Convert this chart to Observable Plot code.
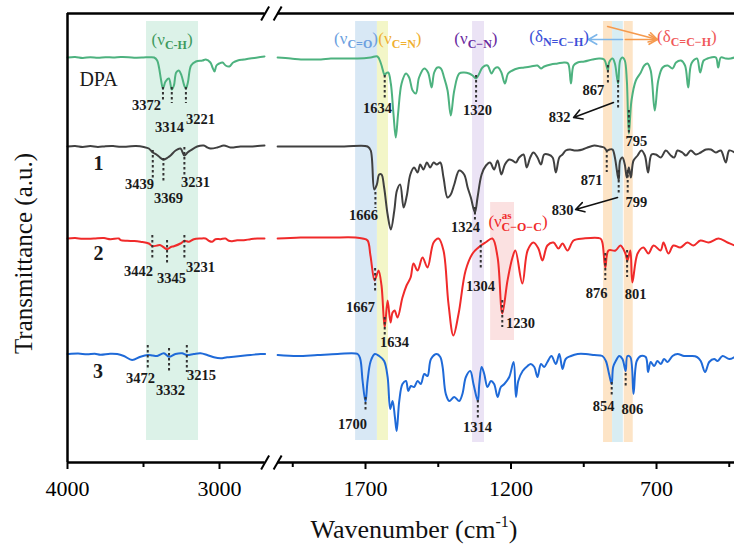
<!DOCTYPE html>
<html><head><meta charset="utf-8">
<script src="https://cdn.jsdelivr.net/npm/d3@7"></script>
<script src="https://cdn.jsdelivr.net/npm/@observablehq/plot@0.6"></script>
<style>body{margin:0;background:#fff}svg{display:block}</style>
</head><body><div id="chart"></div>
<script>
// ---------- DATA (wavenumber cm-1, relative transmittance a.u.) ----------
const seriesNames = ["DPA", "1", "2", "3"];
const seriesColors = ["#4db27f", "#404040", "#f02a2a", "#1f6ad8"];
const seriesOffsets = [405, 316, 224, 108.5];

const specDPA = [[4000,0],[3950,0.5],[3900,-0.5],[3850,0.3],[3800,-0.3],[3750,0.3],[3700,0],[3650,0.4],[3600,0.3],[3550,-0.2],[3500,0],[3460,0.3],[3430,0],[3410,-3],[3398,-10],[3385,-22],[3372,-31],[3355,-24],[3333,-21],[3314,-32],[3300,-28],[3285,-15],[3268,-13],[3250,-18],[3232,-28],[3221,-31],[3208,-25],[3187,-8],[3155,-4],[3112,-3],[3090,-2],[3060,-5],[3046,-10],[3033,-14],[3020,-8],[3002,-6],[2980,-5],[2960,-8],[2935,-9],[2910,-5],[2880,-3],[2840,-2],[2800,-1],[2750,0],[2704,1],
[2002,0],[1957,-1],[1922,-2],[1888,-2],[1853,-2],[1819,-1],[1773,-1],[1727,-1],[1682,0],[1659,1],[1647,-6],[1634,-18],[1630,-16],[1622,-15],[1613,-26],[1604,-56],[1596,-80],[1588,-56],[1576,-26],[1561,-16],[1550,-20],[1538,-33],[1527,-36],[1516,-20],[1498,-11],[1485,-15],[1473,-30],[1464,-15],[1453,-10],[1441,-11],[1430,-20],[1418,-33],[1407,-58],[1395,-33],[1378,-16],[1361,-15],[1344,-16],[1332,-18],[1320,-21],[1309,-16],[1298,-10],[1281,-8],[1267,-16],[1256,-11],[1244,-10],[1233,-15],[1221,-26],[1210,-16],[1195,-13],[1178,-11],[1155,-10],[1132,-9],[1109,-8],[1097,-11],[1086,-9],[1063,-7],[1040,-6],[1017,-5],[1004,-6],[994,-26],[985,-8],[971,-5],[948,-4],[920,-2],[897,-1],[880,-2],[867,-13],[863,-5],[851,-1],[843,-6],[832,-26],[825,-3],[817,0],[809,-3],[802,-23],[795,-76],[786,-43],[771,-23],[754,-15],[742,-8],[731,-6],[720,-13],[706,-53],[694,-23],[679,-10],[662,-8],[645,-11],[633,-5],[616,-3],[602,-8],[591,-30],[580,-6],[561,-1],[550,-15],[538,-3],[525,-1],[513,0],[496,0],[488,-10],[479,0],[462,-1],[445,-1],[432,0]];

const spec1 = [[4000,0],[3950,0.5],[3900,-0.5],[3850,0.4],[3800,-0.5],[3750,0.3],[3700,0.5],[3650,-0.3],[3600,0],[3550,0.4],[3498,-0.5],[3465,-2],[3439,-6],[3415,-8],[3399,-10],[3369,-13],[3340,-11],[3322,-9],[3289,-4],[3257,-2],[3231,-9],[3210,-6],[3191,-4],[3147,0],[3103,1],[3080,-1],[3059,-2],[3015,-1],[2971,1],[2928,-1],[2862,0],[2796,0],[2750,0.5],[2704,1],
[2002,0],[1888,0],[1773,0],[1693,0],[1682,-4],[1670,-43],[1661,-38],[1653,-28],[1645,-28],[1636,-41],[1624,-68],[1613,-83],[1601,-64],[1592,-44],[1581,-38],[1569,-61],[1558,-49],[1546,-28],[1533,-21],[1521,-26],[1512,-18],[1501,-23],[1489,-16],[1478,-21],[1466,-16],[1455,-18],[1443,-16],[1432,-31],[1418,-51],[1407,-48],[1395,-38],[1378,-24],[1361,-28],[1349,-41],[1338,-51],[1324,-66],[1315,-51],[1301,-28],[1286,-19],[1272,-16],[1258,-23],[1246,-14],[1233,-28],[1221,-18],[1206,-13],[1195,-14],[1183,-16],[1172,-11],[1157,-8],[1146,-21],[1134,-11],[1123,-6],[1109,-11],[1097,-18],[1086,-8],[1072,-8],[1057,-11],[1046,-26],[1034,-11],[1023,-8],[1012,-4],[997,-3],[983,-4],[971,-4],[954,-3],[937,-1],[914,1],[894,0],[880,-1],[871,-4],[861,-3],[851,-3],[843,-11],[830,-34],[825,-14],[817,-11],[809,-18],[802,-31],[795,-21],[788,-31],[779,-14],[765,-9],[752,-4],[740,-9],[729,-26],[717,-8],[702,-8],[685,-11],[668,-4],[651,-9],[639,-11],[628,-4],[611,-6],[599,-9],[582,-4],[565,-8],[548,-6],[530,-3],[513,-3],[496,-6],[479,-4],[462,-16],[450,-4],[432,-6]];

const spec2 = [[4000,0],[3950,0.4],[3900,-0.3],[3827,0],[3760,0.4],[3717,-0.7],[3662,0],[3651,-1.7],[3607,-2.3],[3560,-2.5],[3520,-3.3],[3465,-5],[3442,-7.7],[3410,-7],[3388,-6.7],[3345,-10.7],[3320,-8.5],[3300,-7.7],[3257,-5],[3231,-2.3],[3215,-2.8],[3202,-3.3],[3169,-0.7],[3125,0],[3092,0],[3070,-2.3],[3048,-3.3],[3026,-0.7],[2993,-0.7],[2961,0],[2939,-2.3],[2917,-2.7],[2884,-1.7],[2840,-1.7],[2796,-0.7],[2752,0],[2704,0],
[2002,0],[1923,1],[1820,1],[1734,1],[1710,0],[1693,-2],[1683,-17],[1669,-42],[1662,-37],[1655,-32],[1645,-47],[1634,-89],[1624,-62],[1614,-84],[1607,-74],[1600,-72],[1590,-79],[1573,-59],[1559,-47],[1545,-39],[1535,-25],[1521,-32],[1504,-19],[1487,-29],[1466,-4],[1449,0],[1432,-12],[1415,-65],[1398,-97],[1380,-75],[1356,-32],[1332,-15],[1312,-9],[1304,-7],[1288,-4],[1264,0],[1246,-19],[1230,-75],[1212,-42],[1195,-19],[1185,-12],[1161,-45],[1143,-12],[1123,-4],[1106,-10],[1092,-22],[1075,-7],[1054,-4],[1037,-10],[1023,-5],[1006,-12],[985,-2],[951,0],[893,0],[886,-4],[876,-29],[865,-12],[841,-12],[824,-7],[807,-15],[800,-22],[790,-12],[783,-44],[765,-15],[745,-9],[728,-15],[710,-7],[686,-12],[676,-4],[659,-15],[642,-7],[618,-9],[594,-4],[573,-7],[549,-2],[521,-4],[487,0],[456,-4],[432,-7]];

const spec3 = [[4000,0],[3991,0],[3930,0.4],[3871,-0.3],[3820,0.3],[3783,-0.7],[3720,0.3],[3673,0],[3629,-2],[3575,-6],[3520,-2.7],[3472,-1],[3440,-1.5],[3410,-2],[3366,0.7],[3332,-2.7],[3290,0],[3246,0.7],[3215,-1],[3169,0],[3125,0.7],[3081,-1],[3037,-3.3],[2993,-4.3],[2950,-3.3],[2906,-2.7],[2862,-2],[2796,-1],[2730,0],[2700,0],
[2002,-1],[1934,-2],[1865,-1],[1796,0],[1727,0],[1718,-5],[1710,-27],[1700,-48],[1693,-27],[1682,-7],[1668,0],[1653,-2],[1636,-7],[1624,-23],[1615,-55],[1607,-47],[1599,-63],[1593,-77],[1584,-47],[1573,-30],[1561,-27],[1553,-37],[1544,-32],[1533,-33],[1521,-27],[1510,-30],[1498,-20],[1487,-22],[1475,-5],[1455,0],[1443,-3],[1435,-13],[1424,-40],[1412,-47],[1395,-43],[1378,-47],[1367,-40],[1355,-23],[1340,-17],[1329,-30],[1314,-47],[1309,-30],[1301,-13],[1292,-20],[1281,-33],[1269,-27],[1258,-30],[1246,-43],[1235,-33],[1223,-30],[1206,-23],[1191,-8],[1183,-43],[1175,-27],[1160,-17],[1143,-12],[1132,-10],[1120,-13],[1109,-23],[1097,-10],[1086,-13],[1075,-8],[1061,-2],[1046,-10],[1034,0],[1023,-15],[1012,-5],[994,-2],[971,0],[943,0],[914,-1],[886,-2],[874,-7],[863,-20],[854,-30],[849,-13],[840,-7],[828,-2],[817,-5],[806,-17],[800,-2],[790,-3],[779,-40],[768,-7],[754,-2],[737,-3],[729,-18],[720,-8],[708,-12],[697,-7],[685,-10],[674,-5],[662,-8],[645,-2],[628,0],[605,-2],[582,-2],[561,-3],[548,-7],[533,-18],[519,-8],[502,-5],[490,-7],[473,-2],[450,-5],[432,-3]];

const spectra = [specDPA, spec1, spec2, spec3];

// x-axis ticks (broken axis)
const majorTicks = [4000, 3000, 1700, 1200, 700];
const minorTicks = [3500, 1950, 1450, 950, 450];

// shaded assignment bands: [from, to, yBottom, yTop, colour]
const bands = [
  [3480, 3138, 22, 441, "#dcf2e8"],
  [1734, 1659, 22, 441, "#d8e8f5"],
  [1659, 1621, 22, 441, "#f3f6c8"],
  [1332, 1291, 20, 441, "#ebe3f5"],
  [882, 851, 20, 441, "#fde4c6"],
  [851, 814, 20, 441, "#d8edf3"],
  [811, 780, 20, 441, "#fde4c6"],
  [1270, 1188, 122, 260, "#fbe1e1"]
];

// peak labels: [text, wn, y]
const peakLabels = [
  ["3372",3480,357],["3314",3329,335],["3221",3125,343],["1634",1659,354],["1320",1315,352],["867",917,372],["832",1033,345],["795",769,321],
  ["3439",3526,278],["3369",3336,264],["3231",3158,280],["1666",1707,247],["1324",1356,235],["871",923,282],["830",1023,252],["799",769,260],
  ["3442",3533,191],["3345",3316,184],["3231",3125,195],["1667",1717,155],["1634",1600,120],["1304",1305,176],["1230",1167,139],["876",906,169],["801",772,168],
  ["3472",3520,84],["3332",3322,72],["3215",3118,87],["1700",1745,38],["1314",1315,35],["854",882,56],["806",783,53]
];
// dashed peak markers: [wn, yTop, yBottom]
const peakDashes = [
  [3372,375,362],[3314,375,359],[3221,375,359],[1634,387,362],[1320,387,360],[867,397,377],[832,382,352],[795,352,329],
  [3439,312,282],[3369,304,279],[3231,315,285],[1666,270,254],[1324,255,242],[871,312,290],[830,292,267],[799,292,269],
  [3442,227,202],[3345,222,197],[3231,227,202],[1667,194,169],[1634,145,125],[1304,222,192],[1230,162,135],[876,209,182],[801,212,185],
  [3472,117,94],[3332,114,89],[3215,117,90],[1700,65,52],[1314,62,44],[854,80,67],[806,89,74]
];
// series names: [text, wn, y]
const seriesLabels = [["DPA",3796,383],["1",3796,299],["2",3796,209],["3",3800,91]];
// arrows: [wn1, y1, wn2, y2, colour]
const arrows = [
  [848,360,985,345,"#111"],
  [834,265,978,253,"#111"],
  [817,423,934,423,"#7db6ea"],
  [868,436,697,423,"#f59a4e"],
  [807,423,697,423,"#f59a4e"]
];
// assignment labels: [symbol, sup, sub, wn, y, colour, anchor]
const groups = [
  ["ν","","C-H",3309,417,"#3f9a5e","middle"],
  ["ν","","C=O",1731,418,"#6c9fe0","middle"],
  ["ν","","C=N",1580,418,"#f0b030","middle"],
  ["ν","","C−N",1319,418,"#6a2aa0","middle"],
  ["δ","","N=C−H",1033,420,"#3c50d8","middle"],
  ["δ","","C=C−H",594,420,"#f05a5a","middle"],
  ["ν","as","C−O−C",1276,235,"#f02a2a","start"]
];

// ---------- broken-axis position ----------
const u = wn => wn > 2350 ? (4000 - wn) * 0.152 : 298 + (1700 - wn) * 0.291;
const breakL = u(2700), breakR = u(2002), xEnd = u(432), yTop = 449;
const majorMap = new Map(majorTicks.map(t => [u(t), String(t)]));

const rows = [];
spectra.forEach((s, i) => s.forEach(([wn, t]) => rows.push({series: seriesNames[i], seg: wn > 2350 ? "L" : "R", x: u(wn), y: seriesOffsets[i] + t})));

const FONT = "'Liberation Serif','Times New Roman',serif";
const frameSegs = [
  {x1: 0, x2: breakL, y: yTop}, {x1: breakR, x2: xEnd, y: yTop},
  {x1: 0, x2: breakL, y: 0}, {x1: breakR, x2: xEnd, y: 0}
];
const slashes = [];
[breakL, breakR].forEach(b => [0, yTop].forEach(yy => slashes.push({x1: b - 4, y1: yy - 7, x2: b + 4, y2: yy + 7})));

const chart = Plot.plot({
  width: 734, height: 546,
  marginLeft: 67, marginRight: 0, marginTop: 13, marginBottom: 84,
  x: {domain: [0, xEnd], range: [67, 734]},
  y: {domain: [0, yTop], range: [462, 13], axis: null},
  style: {fontFamily: FONT, background: "white", color: "black"},
  marks: [
    ...bands.map(b => Plot.rect([b], {x1: d => u(d[0]), x2: d => u(d[1]), y1: d => d[2], y2: d => d[3], fill: b[4]})),
    ...seriesNames.map((n, i) => Plot.line(rows.filter(r => r.series === n), {x: "x", y: "y", z: "seg", stroke: seriesColors[i], strokeWidth: 2, curve: "catmull-rom"})),
    Plot.ruleX(peakDashes, {x: d => u(d[0]), y1: d => d[1], y2: d => d[2], stroke: "#333", strokeWidth: 2, strokeDasharray: "2.5,2.5"}),
    Plot.text(peakLabels, {x: d => u(d[1]), y: d => d[2], text: d => d[0], fontWeight: "bold", fontSize: 14.5, fill: "#1a1a1a"}),
    Plot.text(seriesLabels.slice(0, 1), {x: d => u(d[1]), y: d => d[2], text: d => d[0], fontSize: 20, fill: "#1a1a1a"}),
    Plot.text(seriesLabels.slice(1), {x: d => u(d[1]), y: d => d[2], text: d => d[0], fontWeight: "bold", fontSize: 20, fill: "#1a1a1a"}),
    ...arrows.map(a => Plot.arrow([a], {x1: d => u(d[0]), y1: d => d[1], x2: d => u(d[2]), y2: d => d[3], stroke: a[4], strokeWidth: 1.6, headLength: 9})),
    Plot.ruleX([0], {y1: 0, y2: yTop, strokeWidth: 2.5}),
    Plot.ruleY(frameSegs, {y: "y", x1: "x1", x2: "x2", strokeWidth: 2.5}),
    Plot.link(slashes, {x1: "x1", y1: "y1", x2: "x2", y2: "y2", strokeWidth: 2}),
    Plot.axisX({ticks: majorTicks.map(u), tickFormat: d => majorMap.get(d), tickSize: 7, tickPadding: 11, fontSize: 22, strokeWidth: 2, label: null}),
    Plot.axisX({ticks: minorTicks.map(u), tickFormat: () => "", tickSize: 5, strokeWidth: 2, label: null})
  ]
});
document.getElementById("chart").appendChild(chart);

// ---------- rich-text labels positioned with the plot's scales ----------
const sx = chart.scale("x"), sy = chart.scale("y");
const svg = d3.select(chart);
groups.forEach(([sym, sup, sub, wn, yy, col, anchor]) => {
  const t = svg.append("text").attr("x", sx.apply(u(wn))).attr("y", sy.apply(yy))
    .attr("text-anchor", anchor).attr("fill", col).attr("font-family", FONT).attr("font-size", 17);
  t.append("tspan").text("(" + sym);
  if (sup) {
    t.append("tspan").attr("font-size", 11).attr("font-weight", "bold").attr("dy", -8).text(sup);
    t.append("tspan").attr("font-size", 12).attr("font-weight", "bold").attr("dx", -10).attr("dy", 12).text(sub);
    t.append("tspan").attr("dy", -4).text(")");
  } else {
    t.append("tspan").attr("font-size", 12).attr("font-weight", "bold").attr("dy", 4).text(sub);
    t.append("tspan").attr("dy", -4).text(")");
  }
});
// axis titles
const xl = svg.append("text").attr("x", 414).attr("y", 538)
  .attr("text-anchor", "middle").attr("font-family", FONT).attr("font-size", 26).attr("fill", "#111");
xl.append("tspan").text("Wavenumber (cm");
xl.append("tspan").attr("font-size", 16).attr("dy", -11).text("-1");
xl.append("tspan").attr("dy", 11).text(")");
svg.append("text").attr("transform", `translate(32,${sy.apply(yTop / 2) + 16}) rotate(-90)`)
  .attr("text-anchor", "middle").attr("font-family", FONT).attr("font-size", 25).attr("fill", "#111")
  .text("Transmittance (a.u.)");
</script>
</body></html>
